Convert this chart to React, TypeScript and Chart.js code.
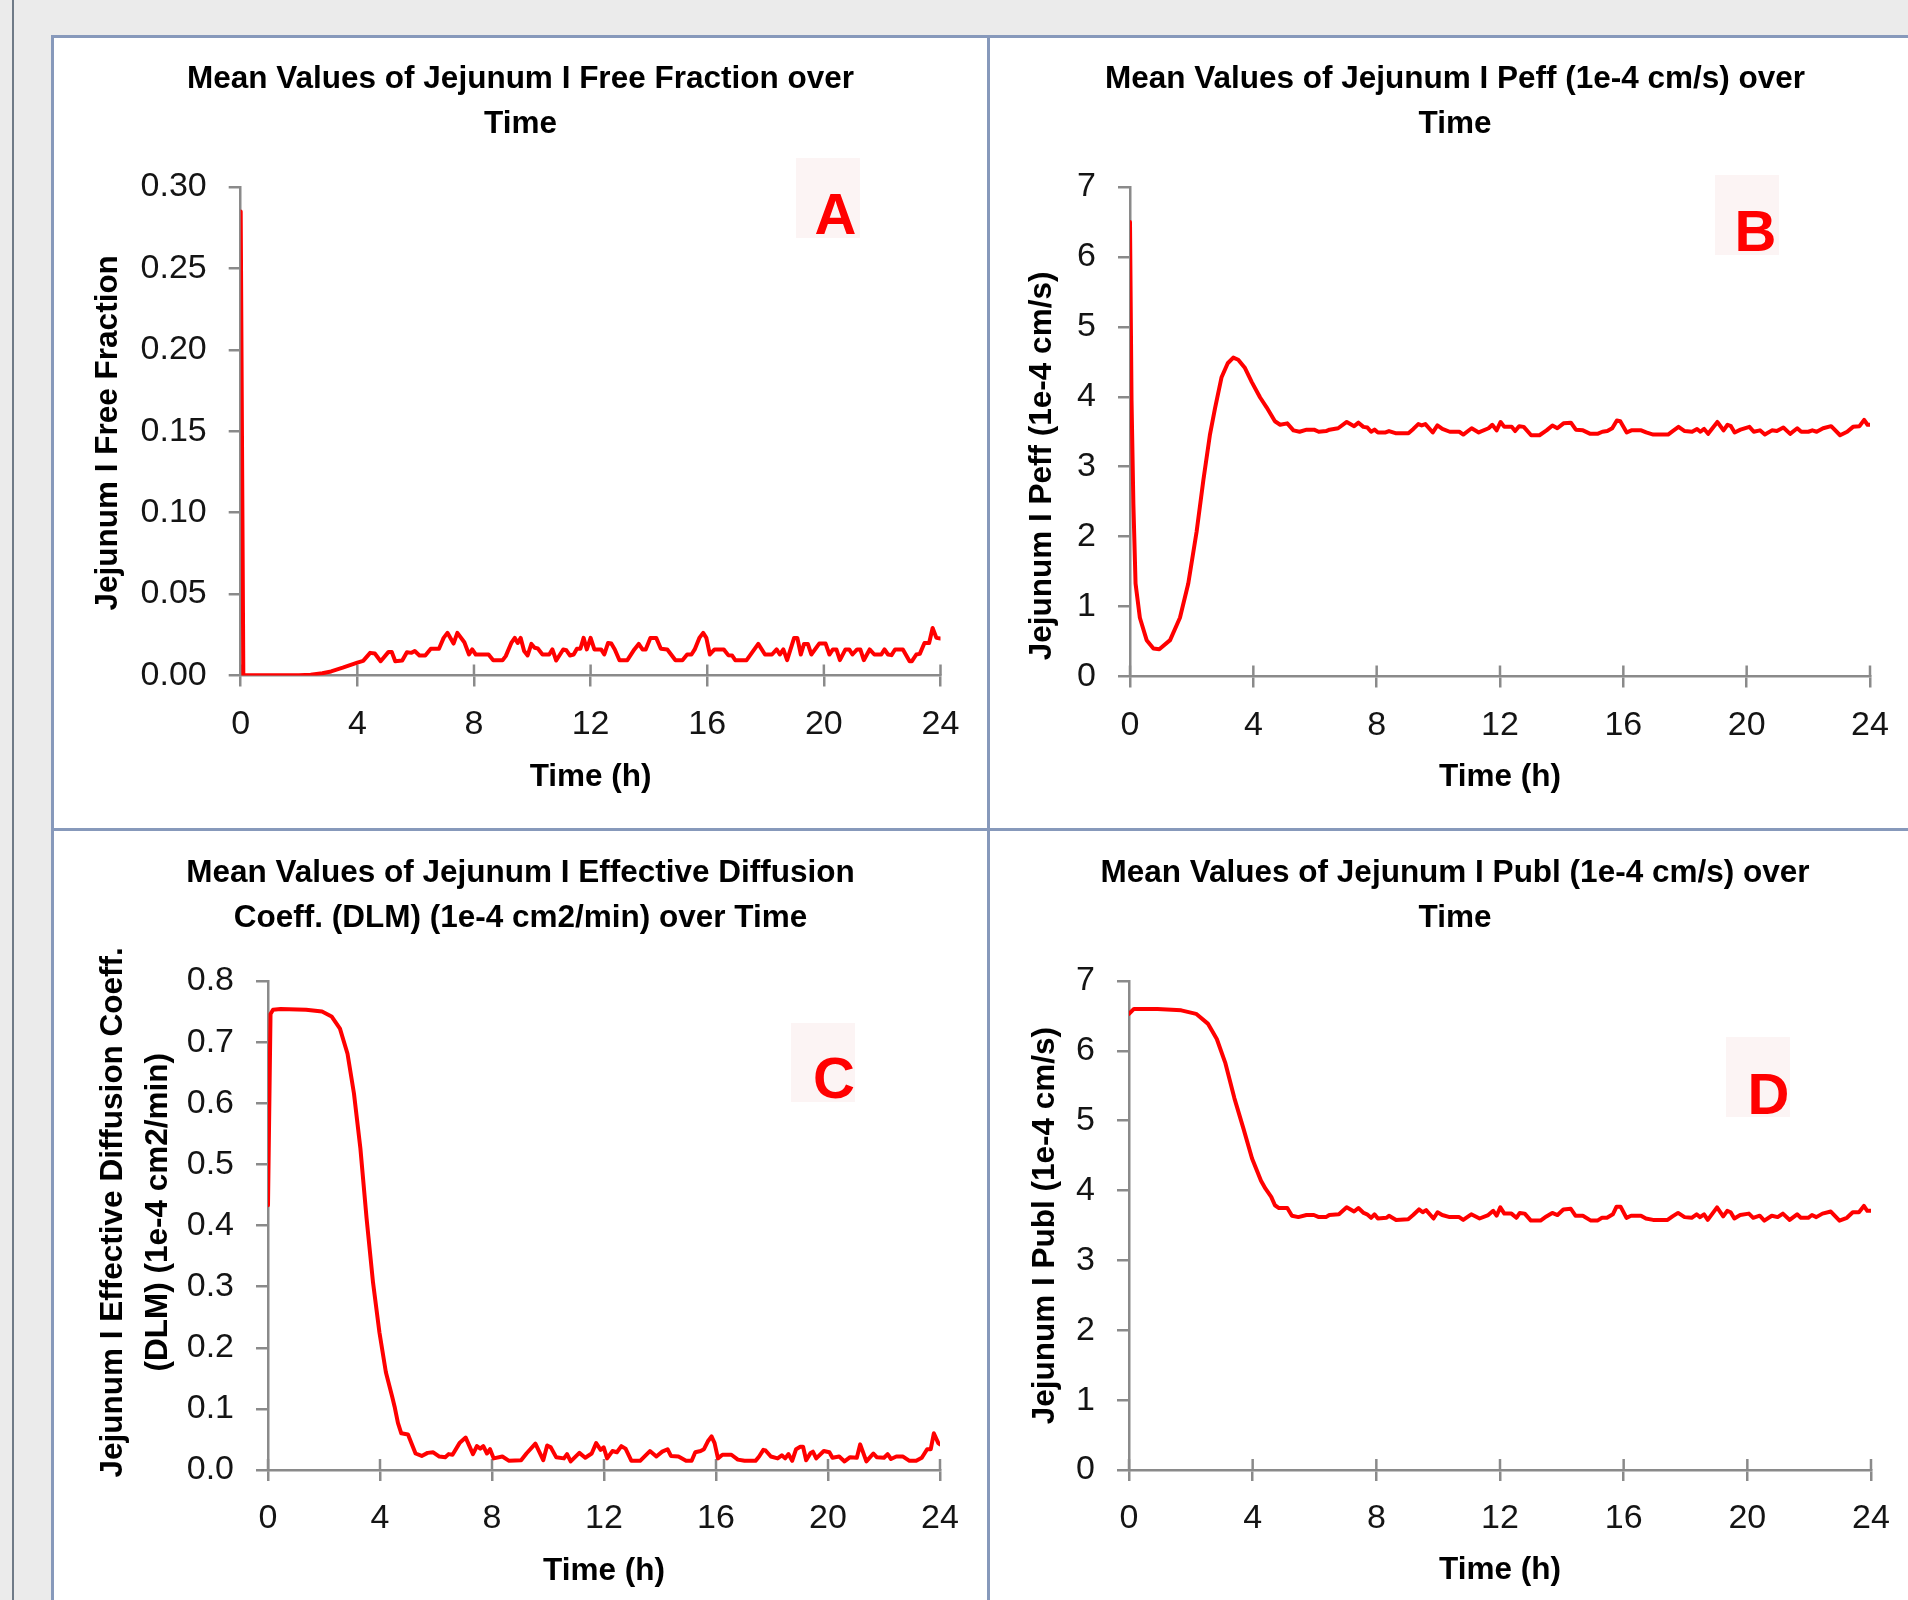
import React, { useEffect, useRef } from 'react';
import { Chart, registerables } from 'chart.js';

Chart.register(...registerables);

const FONT = '"Liberation Sans", Arial, sans-serif';
const AXIS_COLOR = '#8a8a8a';
const LINE_COLOR = '#ff0000';
const TEXT_COLOR = '#000000';
const TICK_COLOR = '#141414';
const BORDER_COLOR = '#8799bb';

// ---------- data (time in hours) ----------
const xTicksMin = 0;
const xTicksMax = 24;
const xTickStep = 4;

const timeA = [0, 0.09, 0.5, 1.0, 1.5, 2.0, 2.4, 2.8, 3.1, 3.5, 4.0, 4.2, 4.44, 4.6, 4.8, 5.07, 5.18, 5.3, 5.54, 5.7, 5.86, 5.97, 6.13, 6.33, 6.52, 6.8, 6.96, 7.09, 7.3, 7.43, 7.67, 7.83, 7.94, 8.06, 8.5, 8.66, 8.98, 9.09, 9.28, 9.4, 9.5, 9.6, 9.72, 9.84, 9.97, 10.08, 10.19, 10.35, 10.58, 10.69, 10.82, 11.06, 11.17, 11.29, 11.42, 11.53, 11.65, 11.76, 11.87, 12.0, 12.13, 12.36, 12.47, 12.6, 12.71, 12.83, 12.99, 13.26, 13.5, 13.65, 13.78, 13.89, 14.05, 14.25, 14.41, 14.63, 14.91, 15.15, 15.31, 15.46, 15.57, 15.73, 15.86, 15.97, 16.09, 16.25, 16.57, 16.72, 16.85, 16.96, 17.35, 17.75, 17.98, 18.22, 18.38, 18.49, 18.61, 18.74, 18.98, 19.09, 19.21, 19.32, 19.45, 19.57, 19.84, 20.06, 20.19, 20.31, 20.43, 20.55, 20.74, 20.87, 20.98, 21.14, 21.25, 21.37, 21.57, 21.73, 21.97, 22.08, 22.2, 22.32, 22.44, 22.71, 22.94, 23.02, 23.17, 23.29, 23.45, 23.61, 23.73, 23.86, 24.0];
const freeFraction = [0.285, 0.0003, 0.0002, 0.0001, 0.0001, 0.0002, 0.0005, 0.0014, 0.0025, 0.0048, 0.0079, 0.009, 0.0139, 0.0135, 0.0088, 0.0145, 0.0145, 0.0088, 0.0092, 0.0143, 0.0139, 0.015, 0.0123, 0.0123, 0.0164, 0.0164, 0.0231, 0.0262, 0.0196, 0.0262, 0.0204, 0.0129, 0.016, 0.0129, 0.0129, 0.0094, 0.0094, 0.0119, 0.02, 0.0231, 0.02, 0.0231, 0.015, 0.0123, 0.0194, 0.017, 0.0166, 0.0129, 0.0129, 0.016, 0.0092, 0.016, 0.0155, 0.0123, 0.0129, 0.0164, 0.0164, 0.0231, 0.016, 0.0231, 0.016, 0.016, 0.0129, 0.02, 0.0196, 0.016, 0.0094, 0.0094, 0.016, 0.0194, 0.016, 0.016, 0.0231, 0.0231, 0.0164, 0.016, 0.0094, 0.0094, 0.0129, 0.0129, 0.016, 0.0231, 0.0262, 0.0231, 0.0129, 0.016, 0.016, 0.0125, 0.0123, 0.0094, 0.0094, 0.0194, 0.0129, 0.0129, 0.016, 0.0129, 0.016, 0.0094, 0.0231, 0.0231, 0.0129, 0.0194, 0.0194, 0.0129, 0.0196, 0.0196, 0.0129, 0.016, 0.016, 0.0094, 0.016, 0.016, 0.0129, 0.016, 0.016, 0.0094, 0.016, 0.0129, 0.0129, 0.016, 0.0129, 0.0125, 0.016, 0.016, 0.0088, 0.0088, 0.0129, 0.0133, 0.02, 0.02, 0.0292, 0.0231, 0.0227];

const timeB = [0, 0.05, 0.11, 0.18, 0.32, 0.54, 0.76, 0.95, 1.3, 1.62, 1.89, 2.16, 2.38, 2.59, 2.76, 2.97, 3.17, 3.35, 3.51, 3.73, 3.95, 4.22, 4.43, 4.7, 4.87, 5.1, 5.3, 5.5, 5.73, 5.97, 6.12, 6.36, 6.47, 6.75, 7.03, 7.27, 7.41, 7.57, 7.7, 7.82, 7.93, 8.04, 8.29, 8.4, 8.61, 9.03, 9.19, 9.35, 9.46, 9.58, 9.82, 9.97, 10.13, 10.37, 10.68, 10.81, 11.08, 11.31, 11.63, 11.75, 11.89, 12.02, 12.14, 12.38, 12.49, 12.62, 12.77, 13.01, 13.28, 13.51, 13.7, 13.86, 14.06, 14.3, 14.46, 14.69, 14.93, 15.16, 15.32, 15.48, 15.64, 15.79, 15.9, 16.11, 16.26, 16.58, 16.74, 16.97, 17.45, 17.6, 17.79, 17.99, 18.23, 18.39, 18.5, 18.62, 18.75, 19.05, 19.25, 19.38, 19.49, 19.61, 19.8, 20.09, 20.23, 20.43, 20.59, 20.82, 20.98, 21.19, 21.41, 21.64, 21.77, 22.0, 22.13, 22.27, 22.48, 22.74, 23.03, 23.26, 23.45, 23.66, 23.81, 23.92, 24.0];
const peff = [6.5, 3.94, 2.46, 1.33, 0.84, 0.52, 0.4, 0.39, 0.52, 0.84, 1.33, 2.07, 2.81, 3.45, 3.84, 4.28, 4.48, 4.56, 4.53, 4.41, 4.21, 3.99, 3.85, 3.65, 3.6, 3.62, 3.52, 3.5, 3.53, 3.53, 3.5, 3.51, 3.53, 3.55, 3.64, 3.58, 3.63, 3.57, 3.56, 3.5, 3.53, 3.49, 3.49, 3.51, 3.48, 3.48, 3.54, 3.61, 3.59, 3.61, 3.49, 3.59, 3.54, 3.5, 3.5, 3.46, 3.55, 3.49, 3.55, 3.6, 3.52, 3.64, 3.57, 3.57, 3.51, 3.58, 3.57, 3.45, 3.45, 3.52, 3.59, 3.55, 3.62, 3.63, 3.53, 3.52, 3.47, 3.47, 3.5, 3.51, 3.55, 3.66, 3.65, 3.49, 3.52, 3.52, 3.49, 3.46, 3.46, 3.51, 3.57, 3.51, 3.5, 3.54, 3.5, 3.54, 3.47, 3.64, 3.52, 3.6, 3.58, 3.49, 3.53, 3.57, 3.5, 3.52, 3.46, 3.52, 3.51, 3.56, 3.47, 3.55, 3.5, 3.5, 3.52, 3.5, 3.55, 3.58, 3.45, 3.5, 3.57, 3.58, 3.67, 3.6, 3.6];

const timeC = [0, 0.09, 0.18, 0.45, 1.36, 1.93, 2.27, 2.57, 2.84, 3.07, 3.3, 3.52, 3.75, 3.98, 4.21, 4.44, 4.52, 4.64, 4.76, 5.0, 5.12, 5.27, 5.49, 5.7, 5.9, 6.12, 6.33, 6.45, 6.59, 6.84, 7.06, 7.32, 7.46, 7.58, 7.69, 7.82, 7.93, 8.06, 8.37, 8.61, 9.04, 9.23, 9.55, 9.83, 9.97, 10.1, 10.29, 10.57, 10.68, 10.81, 11.12, 11.33, 11.56, 11.72, 11.88, 11.99, 12.11, 12.3, 12.46, 12.62, 12.77, 12.98, 13.29, 13.64, 13.87, 14.08, 14.27, 14.39, 14.66, 14.93, 15.13, 15.26, 15.45, 15.57, 15.71, 15.84, 15.95, 16.07, 16.23, 16.55, 16.78, 17.02, 17.41, 17.54, 17.69, 17.77, 17.96, 18.2, 18.35, 18.47, 18.59, 18.72, 18.86, 19.01, 19.11, 19.22, 19.38, 19.46, 19.58, 19.85, 20.05, 20.16, 20.4, 20.59, 20.79, 21.03, 21.15, 21.37, 21.62, 21.74, 22.0, 22.13, 22.25, 22.44, 22.68, 22.91, 23.15, 23.35, 23.54, 23.67, 23.78, 23.94, 24.0];
const dlm = [0.433, 0.746, 0.753, 0.754, 0.753, 0.75, 0.742, 0.722, 0.681, 0.616, 0.526, 0.412, 0.307, 0.225, 0.16, 0.119, 0.104, 0.077, 0.06, 0.058, 0.044, 0.027, 0.023, 0.028, 0.029, 0.022, 0.021, 0.026, 0.025, 0.044, 0.053, 0.026, 0.039, 0.035, 0.039, 0.027, 0.034, 0.019, 0.022, 0.015, 0.016, 0.027, 0.043, 0.016, 0.04, 0.037, 0.021, 0.019, 0.026, 0.014, 0.028, 0.02, 0.027, 0.044, 0.033, 0.037, 0.019, 0.031, 0.029, 0.039, 0.035, 0.015, 0.015, 0.031, 0.022, 0.03, 0.034, 0.023, 0.022, 0.015, 0.015, 0.029, 0.031, 0.034, 0.047, 0.055, 0.044, 0.019, 0.025, 0.025, 0.017, 0.015, 0.015, 0.022, 0.033, 0.032, 0.022, 0.019, 0.024, 0.019, 0.026, 0.015, 0.034, 0.038, 0.038, 0.016, 0.028, 0.03, 0.019, 0.031, 0.029, 0.02, 0.022, 0.014, 0.021, 0.02, 0.042, 0.014, 0.027, 0.021, 0.02, 0.026, 0.018, 0.022, 0.022, 0.015, 0.015, 0.02, 0.034, 0.034, 0.06, 0.044, 0.042];

const timeD = [0, 0.16, 0.92, 1.69, 2.17, 2.55, 2.84, 3.12, 3.41, 3.7, 3.98, 4.27, 4.41, 4.6, 4.72, 4.85, 5.12, 5.27, 5.48, 5.74, 5.98, 6.14, 6.37, 6.48, 6.79, 7.04, 7.28, 7.42, 7.59, 7.7, 7.83, 7.94, 8.05, 8.33, 8.41, 8.64, 9.03, 9.19, 9.38, 9.5, 9.61, 9.85, 9.98, 10.13, 10.37, 10.68, 10.81, 11.07, 11.34, 11.62, 11.78, 11.89, 12.01, 12.14, 12.37, 12.53, 12.64, 12.8, 13.0, 13.31, 13.5, 13.69, 13.86, 14.05, 14.29, 14.44, 14.68, 14.94, 15.15, 15.3, 15.46, 15.65, 15.77, 15.9, 16.09, 16.24, 16.56, 16.72, 16.95, 17.42, 17.58, 17.76, 17.97, 18.2, 18.36, 18.47, 18.6, 18.72, 19.02, 19.22, 19.35, 19.46, 19.58, 19.77, 20.05, 20.19, 20.4, 20.55, 20.79, 20.98, 21.15, 21.37, 21.61, 21.73, 21.97, 22.09, 22.23, 22.43, 22.7, 22.98, 23.22, 23.41, 23.61, 23.77, 23.88, 24.0];
const publ = [6.53, 6.6, 6.6, 6.58, 6.53, 6.39, 6.17, 5.82, 5.32, 4.89, 4.46, 4.14, 4.03, 3.91, 3.79, 3.75, 3.75, 3.64, 3.62, 3.65, 3.65, 3.62, 3.62, 3.65, 3.66, 3.76, 3.7, 3.75, 3.68, 3.66, 3.61, 3.66, 3.6, 3.61, 3.64, 3.58, 3.59, 3.65, 3.73, 3.69, 3.72, 3.6, 3.69, 3.65, 3.62, 3.62, 3.58, 3.66, 3.6, 3.65, 3.71, 3.64, 3.76, 3.67, 3.67, 3.61, 3.68, 3.67, 3.57, 3.57, 3.63, 3.68, 3.65, 3.73, 3.74, 3.64, 3.64, 3.57, 3.57, 3.61, 3.61, 3.66, 3.77, 3.77, 3.61, 3.64, 3.64, 3.6, 3.58, 3.58, 3.63, 3.68, 3.62, 3.61, 3.66, 3.62, 3.66, 3.58, 3.76, 3.63, 3.71, 3.69, 3.6, 3.65, 3.67, 3.61, 3.64, 3.57, 3.64, 3.62, 3.67, 3.58, 3.66, 3.61, 3.61, 3.65, 3.62, 3.67, 3.7, 3.57, 3.61, 3.69, 3.69, 3.78, 3.71, 3.71];

const titleA = ['Mean Values of Jejunum I Free Fraction over', 'Time'];
const titleB = ['Mean Values of Jejunum I Peff (1e-4 cm/s) over', 'Time'];
const titleC = ['Mean Values of Jejunum I Effective Diffusion', 'Coeff. (DLM) (1e-4 cm2/min) over Time'];
const titleD = ['Mean Values of Jejunum I Publ (1e-4 cm/s) over', 'Time'];
const yTitleA = ['Jejunum I Free Fraction'];
const yTitleB = ['Jejunum I Peff (1e-4 cm/s)'];
const yTitleC = ['Jejunum I Effective Diffusion Coeff.', '(DLM) (1e-4 cm2/min)'];
const yTitleD = ['Jejunum I Publ (1e-4 cm/s)'];
const xTitle = 'Time (h)';

// ---------- layout specs ----------
type Spec = {
  left: number; top: number; w: number; h: number;
  area: { l: number; t: number; r: number; b: number };
  titlePadTop: number; titlePadBottom: number; xTitlePadBottom: number;
  times: number[]; values: number[];
  yMax: number; yStep: number; decimals: number;
  title: string[]; yTitle: string[]; yTitleX: number[]; yTitleY: number;
  letter: string; box: [number, number, number, number]; letterAt: [number, number];
};

const specs: Spec[] = [
  {
    left: 54, top: 38, w: 933, h: 790, area: { l: 186.7, t: 149, r: 886.5, b: 637.5 },
    titlePadTop: 19, titlePadBottom: 40, xTitlePadBottom: 31.6,
    times: timeA, values: freeFraction, yMax: 0.3, yStep: 0.05, decimals: 2,
    title: titleA, yTitle: yTitleA, yTitleX: [54.1], yTitleY: 394.8,
    letter: 'A', box: [742, 120, 64, 80], letterAt: [781.5, 175.5],
  },
  {
    left: 990, top: 38, w: 930, h: 790, area: { l: 140, t: 149, r: 880, b: 638.5 },
    titlePadTop: 19, titlePadBottom: 40, xTitlePadBottom: 31.6,
    times: timeB, values: peff, yMax: 7, yStep: 1, decimals: 0,
    title: titleB, yTitle: yTitleB, yTitleX: [52.4], yTitleY: 427.9,
    letter: 'B', box: [725, 137, 64, 80], letterAt: [765.5, 192.5],
  },
  {
    left: 54, top: 831, w: 933, h: 769, area: { l: 214, t: 150, r: 886, b: 639 },
    titlePadTop: 20, titlePadBottom: 40, xTitlePadBottom: 10.1,
    times: timeC, values: dlm, yMax: 0.8, yStep: 0.1, decimals: 1,
    title: titleC, yTitle: yTitleC, yTitleX: [59.2, 103.9], yTitleY: 381.3,
    letter: 'C', box: [737, 192, 64, 79], letterAt: [780, 246.5],
  },
  {
    left: 990, top: 831, w: 930, h: 769, area: { l: 139, t: 150, r: 881, b: 639 },
    titlePadTop: 20, titlePadBottom: 40, xTitlePadBottom: 11.1,
    times: timeD, values: publ, yMax: 7, yStep: 1, decimals: 0,
    title: titleD, yTitle: yTitleD, yTitleX: [55.4], yTitleY: 394.6,
    letter: 'D', box: [736, 206, 64, 80], letterAt: [778.5, 262],
  },
];

function makeDecor(spec: Spec) {
  return {
    id: 'decor',
    beforeDatasetsDraw(chart: any) {
      const ctx = chart.ctx;
      const xs = chart.scales.x;
      const b = chart.chartArea.bottom;
      ctx.save();
      ctx.strokeStyle = AXIS_COLOR;
      ctx.lineWidth = 2.5;
      for (const t of xs.ticks) {
        const px = xs.getPixelForValue(t.value);
        ctx.beginPath();
        ctx.moveTo(px, b);
        ctx.lineTo(px, b - 11);
        ctx.stroke();
      }
      ctx.restore();
    },
    afterDraw(chart: any) {
      const ctx = chart.ctx;
      ctx.save();
      // y-axis title
      ctx.fillStyle = TEXT_COLOR;
      ctx.font = `bold 31.5px ${FONT}`;
      ctx.textAlign = 'center';
      ctx.textBaseline = 'middle';
      spec.yTitle.forEach((line, i) => {
        ctx.save();
        ctx.translate(spec.yTitleX[i], spec.yTitleY);
        ctx.rotate(-Math.PI / 2);
        ctx.fillText(line, 0, 0);
        ctx.restore();
      });
      // panel letter
      const [bx, by, bw, bh] = spec.box;
      ctx.fillStyle = '#fcf4f4';
      ctx.fillRect(bx, by, bw, bh);
      ctx.fillStyle = LINE_COLOR;
      ctx.font = `bold 58px ${FONT}`;
      ctx.textAlign = 'center';
      ctx.textBaseline = 'alphabetic';
      ctx.fillText(spec.letter, spec.letterAt[0], spec.letterAt[1] + 0.358 * 58);
      ctx.restore();
    },
  };
}

function makeConfig(spec: Spec): any {
  const data = spec.times.map((t, i) => ({ x: t, y: spec.values[i] }));
  const { area } = spec;
  return {
    type: 'line',
    data: {
      datasets: [
        {
          data,
          yAxisID: 'y',
          borderColor: LINE_COLOR,
          borderWidth: 4,
          pointRadius: 0,
          tension: 0,
          fill: false,
          borderJoinStyle: 'round',
          borderCapStyle: 'round',
        },
      ],
    },
    options: {
      responsive: false,
      maintainAspectRatio: false,
      animation: false,
      events: [],
      layout: { padding: { left: 0, right: 0, top: 0, bottom: 0 } },
      plugins: {
        legend: { display: false },
        tooltip: { enabled: false },
        title: {
          display: true,
          text: spec.title,
          color: TEXT_COLOR,
          font: { family: FONT, size: 31.5, weight: 'bold', lineHeight: 45 / 31.5 },
          padding: { top: spec.titlePadTop, bottom: spec.titlePadBottom },
        },
      },
      scales: {
        x: {
          type: 'linear',
          min: xTicksMin,
          max: xTicksMax,
          afterFit: (s: any) => { s.height = spec.h - area.b; },
          ticks: {
            stepSize: xTickStep,
            autoSkip: false,
            maxRotation: 0,
            padding: 17.5,
            color: TICK_COLOR,
            font: { family: FONT, size: 34 },
            callback: (v: any) => String(v),
          },
          grid: {
            display: true,
            drawOnChartArea: false,
            drawTicks: true,
            tickLength: 11,
            color: AXIS_COLOR,
            lineWidth: 2.5,
          },
          border: { display: true, color: AXIS_COLOR, width: 2.5 },
          title: {
            display: true,
            text: xTitle,
            color: TEXT_COLOR,
            font: { family: FONT, size: 31.5, weight: 'bold' },
            padding: { top: 0, bottom: spec.xTitlePadBottom },
          },
        },
        y: {
          type: 'linear',
          position: 'left',
          min: 0,
          max: spec.yMax,
          afterFit: (s: any) => { s.width = area.l; },
          ticks: {
            stepSize: spec.yStep,
            autoSkip: false,
            padding: 22,
            color: TICK_COLOR,
            font: { family: FONT, size: 34 },
            callback: (v: any) => Number(v).toFixed(spec.decimals),
          },
          grid: {
            display: true,
            drawOnChartArea: false,
            drawTicks: true,
            tickLength: 12,
            color: AXIS_COLOR,
            lineWidth: 2.5,
          },
          border: { display: true, color: AXIS_COLOR, width: 2.5 },
        },
        yR: {
          type: 'linear',
          position: 'right',
          display: true,
          afterFit: (s: any) => { s.width = spec.w - area.r; },
          ticks: { display: false },
          grid: { display: false, drawTicks: false },
          border: { display: false },
        },
      },
    },
    plugins: [makeDecor(spec)],
  };
}

function ChartPanel({ spec }: { spec: Spec }) {
  const ref = useRef<HTMLCanvasElement>(null);
  useEffect(() => {
    if (!ref.current) return;
    const chart = new Chart(ref.current, makeConfig(spec));
    return () => chart.destroy();
  }, [spec]);
  return (
    <canvas
      ref={ref}
      width={spec.w}
      height={spec.h}
      style={{ position: 'absolute', left: spec.left, top: spec.top, width: spec.w, height: spec.h }}
    />
  );
}

export default function App() {
  const line = (s: React.CSSProperties) => <div style={{ position: 'absolute', background: BORDER_COLOR, ...s }} />;
  return (
    <div
      style={{
        position: 'absolute', left: 0, top: 0, width: 1908, height: 1600,
        background: '#ebebeb', overflow: 'hidden',
      }}
    >
      <div style={{ position: 'absolute', left: 12, top: 0, width: 2, height: 1600, background: '#6f7a87' }} />
      <div style={{ position: 'absolute', left: 51, top: 35, width: 1857, height: 1565, background: '#ffffff' }} />
      {specs.map((s, i) => <ChartPanel key={i} spec={s} />)}
      {line({ left: 51, top: 35, width: 1857, height: 3 })}
      {line({ left: 51, top: 35, width: 3, height: 1565 })}
      {line({ left: 987, top: 35, width: 3, height: 1565 })}
      {line({ left: 51, top: 828, width: 1857, height: 3 })}
    </div>
  );
}
